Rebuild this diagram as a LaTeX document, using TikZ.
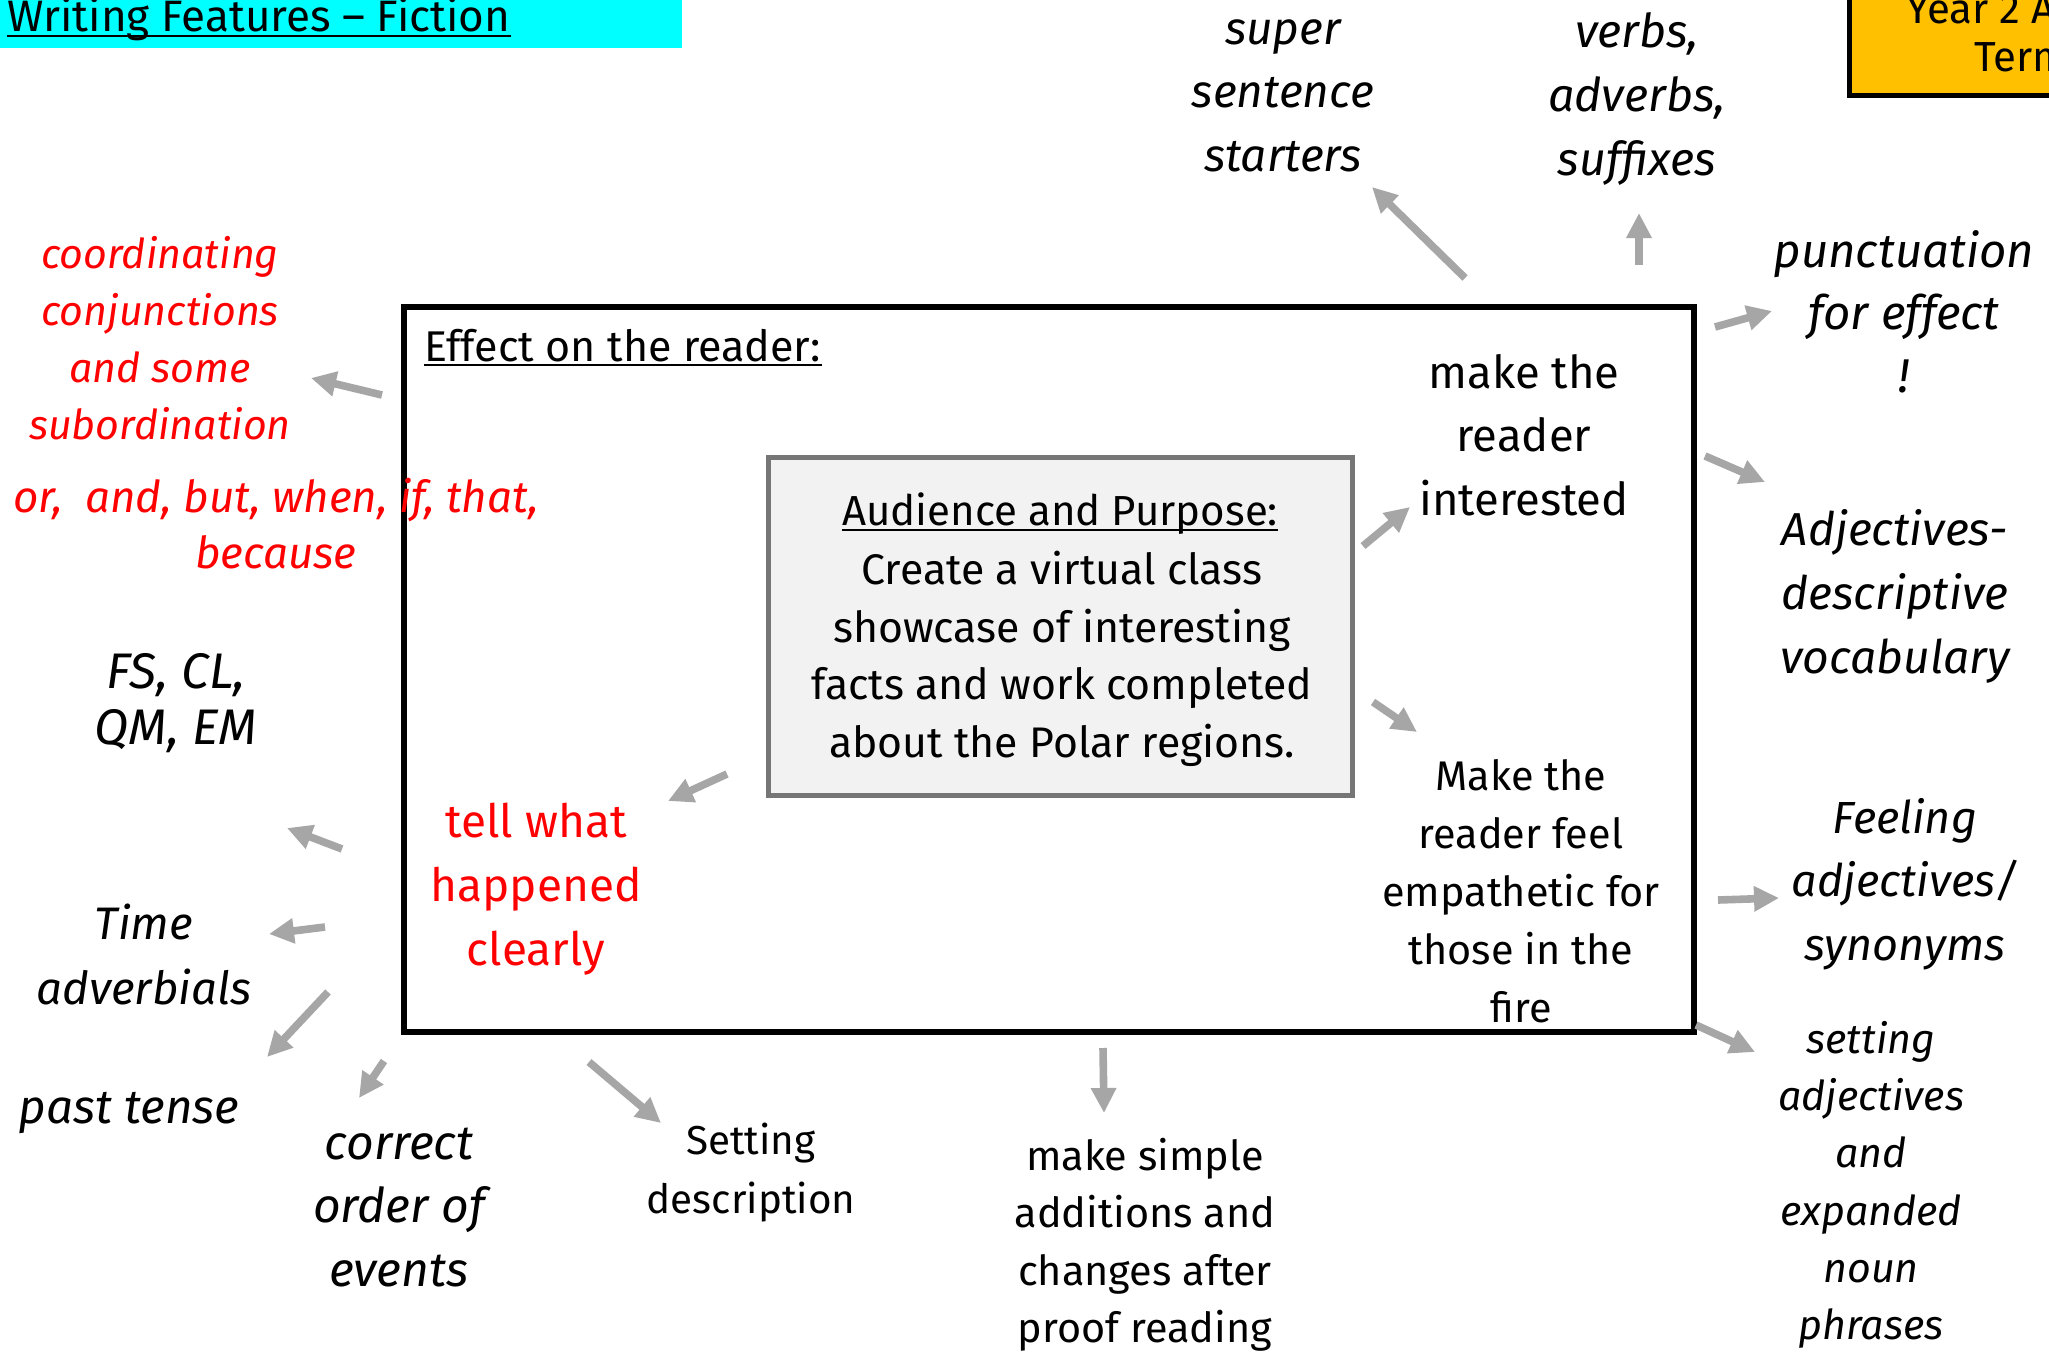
\documentclass[tikz,border=0pt]{standalone}
\usepackage{fontspec}
\setmainfont{Fira Sans}
\usetikzlibrary{arrows.meta}
\definecolor{arrgray}{HTML}{A6A6A6}
\definecolor{boxgray}{HTML}{F2F2F2}
\definecolor{boxedge}{HTML}{767676}
\definecolor{titlecyan}{HTML}{00FFFF}
\definecolor{yel}{HTML}{FFC000}
\definecolor{redtxt}{HTML}{FF0000}
\newcommand{\fsz}[2]{\fontsize{#1}{#2}\selectfont}
\begin{document}
\begin{tikzpicture}[x=0.5pt,y=-0.5pt,
  lbl/.style={inner sep=0pt, align=center},
  itl/.style={lbl},
  arr/.style={draw=arrgray, line width=3.8pt, -{Triangle[length=12.5pt,width=12pt]}}]
\useasboundingbox (0,0) rectangle (2049,1355);
\clip (0,0) rectangle (2049,1355);
\fill[white] (0,0) rectangle (2049,1355);

% title bar
\fill[titlecyan] (0,0) rectangle (682,48);
\node[inner sep=0pt, anchor=base west, font=\fsz{22}{26}] (title) at (7,31) {Writing Features – Fiction};
\draw[line width=1.1pt] ([yshift=-2.5pt]title.base west) -- ([yshift=-2.5pt]title.base east);

% yellow box (cropped)
\node[draw, line width=2.5pt, fill=yel, minimum width=115.5pt, minimum height=57.5pt, inner sep=0pt] (yearbox) at (1964.5,37.5) {};
\node[inner sep=0pt, anchor=base west, font=\fsz{21}{24}] (year1) at (1906,23) {Year 2 A};
\node[inner sep=0pt, anchor=base west, font=\fsz{21}{24}] (year2) at (1974,71) {Term};

% main box
\node[draw, line width=3pt, minimum width=645pt, minimum height=362.5pt, inner sep=0pt] (mainbox) at (1049,669.5) {};
\node[inner sep=0pt, anchor=base west, font=\fsz{21.5}{28}] (effect) at (424,361) {Effect on the reader:};
\draw[line width=1pt] ([yshift=-2pt]effect.base west) -- ([yshift=-2pt]effect.base east);

% inner box
\node[draw=boxedge, line width=2.5pt, fill=boxgray, minimum width=292pt, minimum height=169pt, inner sep=0pt] (apbox) at (1060,626) {};
\node[inner sep=0pt, anchor=base, font=\fsz{21}{28.9}] (aphead) at (1060,525) {Audience and Purpose:};
\draw[line width=1pt] ([yshift=-2.5pt]aphead.base west) -- ([yshift=-2.5pt]aphead.base east);
\node[lbl, font=\fsz{21.4}{28.9}] (apbody) at (1062,659.5) {\strut Create a virtual class\\showcase of interesting\\facts and work completed\\about the Polar regions.\strut};

% inside main box
\node[lbl, font=\fsz{22.7}{31.75}] (interest) at (1524,439) {\strut make the\\reader\\interested\strut};
\node[lbl, font=\fsz{20.7}{28.9}] (empath) at (1521,895) {\strut Make the\\reader feel\\empathetic for\\those in the\\fire\strut};
\node[lbl, font=\fsz{23}{32}, text=redtxt] (tell) at (536,889) {\strut tell what\\happened\\clearly\strut};

% top
\node[itl, font=\itshape\fsz{23}{31.75}] (super) at (1283,95) {\strut super\\sentence\\starters\strut};
\node[itl, font=\itshape\fsz{23.3}{32}] (verbs) at (1637,99) {\strut verbs,\\adverbs,\\suffixes\strut};

% right
\node[itl, font=\itshape\fsz{23.7}{31.25}] (punct) at (1904,317) {\strut punctuation\\for effect\\!\strut};
\node[itl, font=\itshape\fsz{23.1}{32}] (adjdesc) at (1895,597) {\strut Adjectives-\\descriptive\\vocabulary\strut};
\node[itl, font=\itshape\fsz{22.5}{31.75}] (feeling) at (1905,884) {\strut Feeling\\adjectives/\\synonyms\strut};
\node[itl, font=\itshape\fsz{20.6}{28.6}] (settadj) at (1871,1185) {\strut setting\\adjectives\\and\\expanded\\noun\\phrases\strut};

% bottom
\node[lbl, font=\fsz{20.7}{28.8}] (simple) at (1145,1245) {\strut make simple\\additions and\\changes after\\proof reading\strut};
\node[lbl, font=\fsz{20.2}{29.5}] (setdesc) at (751,1172.5) {\strut Setting\\description\strut};
\node[itl, font=\itshape\fsz{24}{31.75}] (correct) at (399,1210) {\strut correct\\order of\\events\strut};

% left
\node[itl, font=\itshape\fsz{23.8}{30}] (past) at (129,1111) {\strut past tense\strut};
\node[itl, font=\itshape\fsz{22.8}{32.5}] (time) at (144,959) {\strut Time\\adverbials\strut};
\node[itl, font=\itshape\fsz{25}{28}] (fscl) at (176,705) {\strut FS, CL,\\QM, EM\strut};
\node[itl, font=\itshape\fsz{20.6}{28.5}, text=redtxt] (coord) at (160,343) {\strut coordinating\\conjunctions\\and some\\subordination\strut};
\node[itl, font=\itshape\fsz{22}{28}, text=redtxt] (conjlist) at (276,529) {\strut or,\ \ and, but, when, if, that,\\because\strut};

% arrows
\coordinate (a1s) at (382,395);   \coordinate (a1e) at (311,378);
\coordinate (a2s) at (1465,278);  \coordinate (a2e) at (1372,187);
\coordinate (a3s) at (1639,265);  \coordinate (a3e) at (1639,213);
\coordinate (a4s) at (1715,327);  \coordinate (a4e) at (1772,311);
\coordinate (a5s) at (1705,456);  \coordinate (a5e) at (1765,482);
\coordinate (a6s) at (1363,546);  \coordinate (a6e) at (1410,507);
\coordinate (a7s) at (1373,702);  \coordinate (a7e) at (1417,732);
\coordinate (a8s) at (727,774);   \coordinate (a8e) at (668,801);
\coordinate (a9s) at (342,849);   \coordinate (a9e) at (287,828);
\coordinate (a10s) at (325,927);  \coordinate (a10e) at (269,934);
\coordinate (a11s) at (328,992);  \coordinate (a11e) at (267,1057);
\coordinate (a12s) at (384,1061); \coordinate (a12e) at (359,1098);
\coordinate (a13s) at (589,1062); \coordinate (a13e) at (661,1123);
\coordinate (a14s) at (1103,1048);\coordinate (a14e) at (1104,1113);
\coordinate (a15s) at (1718,900); \coordinate (a15e) at (1779,898);
\coordinate (a16s) at (1696,1025);\coordinate (a16e) at (1755,1052);
\foreach \i in {1,...,16} {\draw[arr] (a\i s) -- (a\i e);}
\end{tikzpicture}
\end{document}
